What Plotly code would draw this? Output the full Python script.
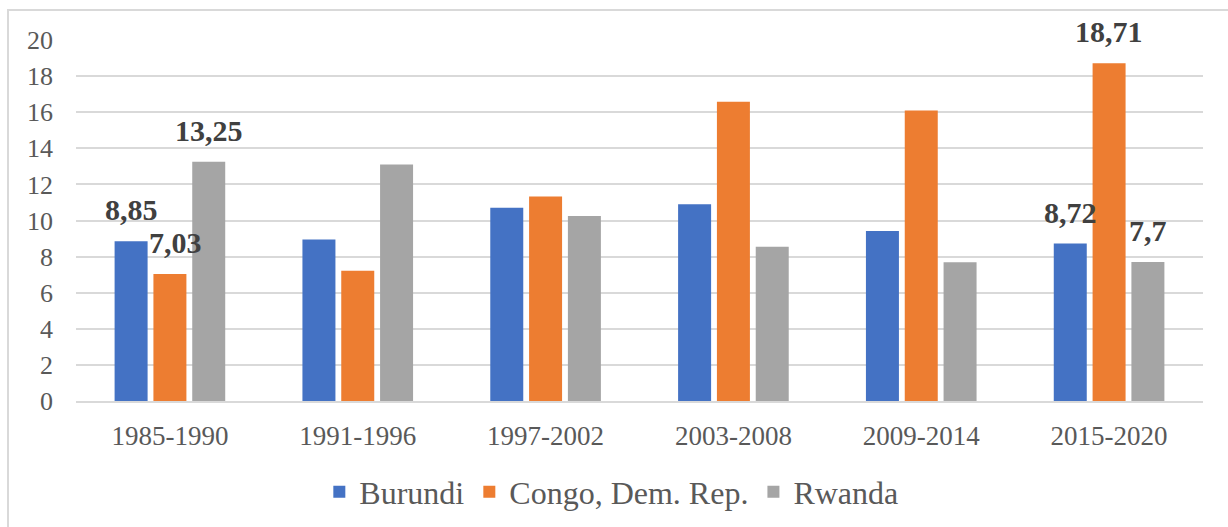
import plotly.graph_objects as go

periods = ["1985-1990", "1991-1996", "1997-2002", "2003-2008", "2009-2014", "2015-2020"]
burundi = [8.85, 8.95, 10.7, 10.9, 9.42, 8.72]
congo = [7.03, 7.21, 11.33, 16.58, 16.09, 18.71]
rwanda = [13.25, 13.1, 10.25, 8.54, 7.69, 7.7]

# labelled points: (series index, period index, text)
labels = [
    (0, 0, "8,85"), (1, 0, "7,03"), (2, 0, "13,25"),
    (0, 5, "8,72"), (1, 5, "18,71"), (2, 5, "7,7"),
]

names = ["Burundi", "Congo, Dem. Rep.", "Rwanda"]
colors = ["#4472C4", "#ED7D31", "#A5A5A5"]
series = [burundi, congo, rwanda]

SERIF = "Liberation Serif"

fig = go.Figure()
for n, c, v in zip(names, colors, series):
    fig.add_trace(go.Bar(name=n, x=periods, y=v, marker=dict(color=c, line=dict(width=0))))

W, H = 1228, 527
ml, mr, mt, mb = 76, 25, 40, 126
pw = W - ml - mr
ph = H - mt - mb
bargap = 0.38
slot = pw / len(periods) * (1 - bargap) / 3

for si, pi, txt in labels:
    fig.add_annotation(
        x=periods[pi], y=series[si][pi], text="<b>" + txt + "</b>", showarrow=False,
        xshift=(si - 1) * slot + (6 if si == 1 and pi == 0 else 0),
        yshift=13, yanchor="bottom",
        font=dict(family=SERIF, size=30, color="#404040"),
    )

# chart frame
fig.add_shape(
    type="rect", xref="paper", yref="paper",
    x0=(8 - ml) / pw, x1=(W + 5 - ml) / pw,
    y0=(mt + ph - (H + 5)) / ph, y1=(mt + ph - 10) / ph,
    line=dict(color="#d9d9d9", width=2), fillcolor="rgba(0,0,0,0)", layer="below",
)

fig.update_layout(
    width=W, height=H,
    margin=dict(l=ml, r=mr, t=mt, b=mb, autoexpand=False),
    paper_bgcolor="white", plot_bgcolor="white",
    barmode="group", bargap=bargap, bargroupgap=0.15,
    font=dict(family=SERIF, color="#595959", size=26),
    showlegend=True,
    legend=dict(orientation="h", x=0.475, xanchor="center", y=(mt + ph - 492) / ph, yanchor="middle",
                font=dict(family=SERIF, size=32, color="#595959"), itemwidth=30, traceorder="normal"),
    xaxis=dict(showgrid=False, showline=True, linecolor="#d9d9d9", linewidth=2,
               ticks="", ticklabelstandoff=10, automargin=False,
               tickfont=dict(family=SERIF, size=27, color="#595959")),
    yaxis=dict(range=[0, 20], dtick=2, showgrid=True, gridcolor="#d9d9d9", gridwidth=1.5,
               zeroline=False, showline=False, ticks="", ticklabelstandoff=22, automargin=False,
               tickfont=dict(family=SERIF, size=26, color="#595959")),
)

fig.write_html("out.html")
